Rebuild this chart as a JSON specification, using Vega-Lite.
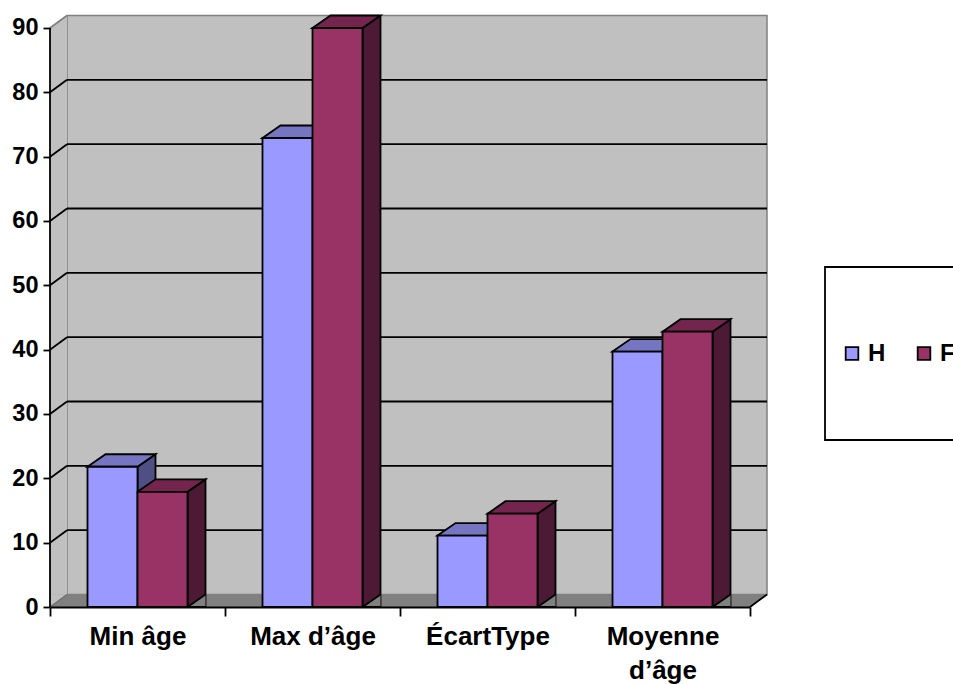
{
  "$schema": "https://vega.github.io/schema/vega-lite/v6.json",
  "width": 700,
  "height": 592,
  "autosize": "none",
  "padding": {"left": 50, "top": 15, "right": 203, "bottom": 77},
  "background": "white",
  "config": {"view": {"stroke": null}, "font": "Liberation Sans"},
  "datasets": {
    "ages": [
      {"cat": "Min âge", "serie": "H", "val": 21.8},
      {"cat": "Min âge", "serie": "F", "val": 17.9},
      {"cat": "Max d’âge", "serie": "H", "val": 72.9},
      {"cat": "Max d’âge", "serie": "F", "val": 90},
      {"cat": "ÉcartType", "serie": "H", "val": 11.1},
      {"cat": "ÉcartType", "serie": "F", "val": 14.5},
      {"cat": "Moyenne d’âge", "serie": "H", "val": 39.7},
      {"cat": "Moyenne d’âge", "serie": "F", "val": 42.8}
    ],
    "grid": [{"v": 10}, {"v": 20}, {"v": 30}, {"v": 40}, {"v": 50}, {"v": 60}, {"v": 70}, {"v": 80}],
    "one": [{"k": 1}]
  },
  "layer": [
    {
      "data": {"name": "one"},
      "mark": {"type": "rect", "fill": "#C0C0C0", "stroke": "#808080", "strokeWidth": 1.5, "xOffset": 17, "x2Offset": 17, "yOffset": -12.5, "y2Offset": -12.5},
      "encoding": {
        "x": {"value": 0},
        "x2": {"value": "width"},
        "y": {"datum": 0, "type": "quantitative", "title": null},
        "y2": {"datum": 90}
      }
    },
    {
      "data": {"name": "one"},
      "mark": {"type": "rect", "fill": "#C0C0C0", "x2Offset": 17, "y2Offset": -12.5},
      "encoding": {
        "x": {"value": 0},
        "x2": {"value": 0},
        "y": {"datum": 0, "type": "quantitative", "title": null},
        "y2": {"datum": 90}
      }
    },
    {
      "data": {"name": "one"},
      "mark": {"type": "rect", "fill": "#808080", "yOffset": -12.5},
      "encoding": {
        "x": {"value": 0},
        "x2": {"value": "width"},
        "y": {"datum": 0, "type": "quantitative", "title": null},
        "y2": {"datum": 0}
      }
    },
    {
      "data": {"name": "one"},
      "mark": {"type": "point", "shape": "M0,0 L0,-12.5 L17,-12.5 Z", "size": 4, "filled": true, "fill": "#C0C0C0", "stroke": "#C0C0C0", "strokeWidth": 0.5, "opacity": 1},
      "encoding": {"x": {"value": 0}, "y": {"datum": 0, "type": "quantitative", "title": null}}
    },
    {
      "data": {"name": "one"},
      "mark": {"type": "point", "shape": "M0,0 L17,-12.5 L0,-12.5 Z", "size": 4, "filled": true, "fill": "#808080", "stroke": "#808080", "strokeWidth": 0.5, "opacity": 1},
      "encoding": {"x": {"value": "width"}, "y": {"datum": 0, "type": "quantitative", "title": null}}
    },
    {
      "data": {"name": "one"},
      "mark": {"type": "point", "shape": "M0,0 L0,-13 L17,-13 Z", "size": 4, "filled": true, "fill": "white", "stroke": "white", "strokeWidth": 0.5, "opacity": 1},
      "encoding": {"x": {"value": 0}, "y": {"datum": 90, "type": "quantitative", "title": null}}
    },
    {
      "data": {"name": "grid"},
      "mark": {"type": "rule", "stroke": "black", "strokeWidth": 1.8, "xOffset": 17, "x2Offset": 17, "yOffset": -12.5},
      "encoding": {
        "x": {"value": 0},
        "x2": {"value": "width"},
        "y": {"field": "v", "type": "quantitative", "title": null}
      }
    },
    {
      "data": {"name": "grid"},
      "mark": {"type": "rule", "stroke": "black", "strokeWidth": 1.8, "x2Offset": 17, "y2Offset": -12.5},
      "encoding": {
        "x": {"value": 0},
        "x2": {"value": 0},
        "y": {"field": "v", "type": "quantitative", "title": null},
        "y2": {"field": "v"}
      }
    },
    {
      "data": {"name": "one"},
      "mark": {"type": "rule", "stroke": "#808080", "strokeWidth": 1.8, "x2Offset": 17, "y2Offset": -12.5},
      "encoding": {
        "x": {"value": 0},
        "x2": {"value": 0},
        "y": {"datum": 90, "type": "quantitative", "title": null},
        "y2": {"datum": 90}
      }
    },
    {
      "data": {"name": "one"},
      "mark": {"type": "rule", "stroke": "#707070", "strokeWidth": 1.5, "x2Offset": 17, "y2Offset": -12.5},
      "encoding": {
        "x": {"value": 0},
        "x2": {"value": 0},
        "y": {"datum": 0, "type": "quantitative", "title": null},
        "y2": {"datum": 0}
      }
    },
    {
      "data": {"name": "one"},
      "mark": {"type": "rule", "stroke": "black", "strokeWidth": 1.8, "x2Offset": 17, "y2Offset": -12.5},
      "encoding": {
        "x": {"value": "width"},
        "x2": {"value": "width"},
        "y": {"datum": 0, "type": "quantitative", "title": null},
        "y2": {"datum": 0}
      }
    },
    {
      "data": {"name": "one"},
      "mark": {"type": "rule", "stroke": "black", "strokeWidth": 1.8},
      "encoding": {
        "x": {"value": 0},
        "y": {"datum": 0, "type": "quantitative", "title": null},
        "y2": {"datum": 90}
      }
    },
    {
      "data": {"name": "ages"},
      "mark": {"type": "point", "shape": "M25,0 L43,-12.5 L43,700 L25,712 Z", "size": 4, "filled": true, "stroke": "black", "strokeWidth": 1.8, "opacity": 1, "clip": true},
      "encoding": {
        "x": {"field": "cat", "type": "nominal", "sort": ["Min âge", "Max d’âge", "ÉcartType", "Moyenne d’âge"], "title": null},
        "xOffset": {"field": "serie", "sort": ["H", "F"]},
        "y": {"field": "val", "type": "quantitative", "title": null},
        "fill": {"condition": {"test": "datum.serie == 'H'", "value": "#4F4F86"}, "value": "#4C1A34"}
      }
    },
    {
      "data": {"name": "ages"},
      "mark": {"type": "point", "shape": "M43,0 L25,0 L43,-12.5", "size": 4, "filled": true, "fill": "#808080", "stroke": "black", "strokeWidth": 1.8, "opacity": 1},
      "encoding": {
        "x": {"field": "cat", "type": "nominal", "sort": ["Min âge", "Max d’âge", "ÉcartType", "Moyenne d’âge"], "title": null},
        "xOffset": {"field": "serie", "sort": ["H", "F"]},
        "y": {"datum": 0, "type": "quantitative", "title": null}
      }
    },
    {
      "data": {"name": "ages"},
      "mark": {"type": "point", "shape": "M-25,0 L-7,-12.5 L43,-12.5 L25,0 Z", "size": 4, "filled": true, "stroke": "black", "strokeWidth": 1.8, "opacity": 1},
      "encoding": {
        "x": {"field": "cat", "type": "nominal", "sort": ["Min âge", "Max d’âge", "ÉcartType", "Moyenne d’âge"], "title": null},
        "xOffset": {"field": "serie", "sort": ["H", "F"]},
        "y": {"field": "val", "type": "quantitative", "title": null},
        "fill": {"condition": {"test": "datum.serie == 'H'", "value": "#7575C2"}, "value": "#74254D"}
      }
    },
    {
      "data": {"name": "ages"},
      "mark": {"type": "bar", "stroke": "black", "strokeWidth": 1.8, "opacity": 1},
      "encoding": {
        "x": {
          "field": "cat",
          "type": "nominal",
          "sort": ["Min âge", "Max d’âge", "ÉcartType", "Moyenne d’âge"],
          "title": null,
          "scale": {"paddingInner": 0, "paddingOuter": 0},
          "axis": {
            "labelAngle": 0,
            "labelAlign": "center",
            "domainColor": "black",
            "domainWidth": 1.8,
            "tickColor": "black",
            "tickWidth": 1.8,
            "tickSize": 9,
            "tickBand": "extent",
            "labelFont": "Liberation Sans",
            "labelFontWeight": "bold",
            "labelFontSize": 26,
            "labelColor": "black",
            "labelPadding": 20,
            "labelLineHeight": 34,
            "labelExpr": "datum.label == 'Moyenne d’âge' ? ['Moyenne', 'd’âge'] : datum.label",
            "zindex": 1
          }
        },
        "xOffset": {"field": "serie", "sort": ["H", "F"], "scale": {"paddingInner": 0, "paddingOuter": 0.75}},
        "y": {
          "field": "val",
          "type": "quantitative",
          "title": null,
          "scale": {"domain": [0, 92.02], "nice": false},
          "axis": {
            "values": [0, 10, 20, 30, 40, 50, 60, 70, 80, 90],
            "domain": false,
            "grid": false,
            "tickColor": "black",
            "tickWidth": 1.8,
            "tickSize": 7,
            "labelFont": "Liberation Sans",
            "labelFontWeight": "bold",
            "labelFontSize": 23.5,
            "labelColor": "black",
            "labelPadding": 5,
            "zindex": 1
          }
        },
        "color": {
          "field": "serie",
          "type": "nominal",
          "sort": ["H", "F"],
          "scale": {"domain": ["H", "F"], "range": ["#9999FF", "#993366"]},
          "legend": {
            "title": null,
            "orient": "none",
            "legendX": 775,
            "legendY": 252,
            "direction": "horizontal",
            "padding": 15,
            "clipHeight": 143,
            "strokeColor": "black",
            "fillColor": "white",
            "cornerRadius": 0,
            "symbolType": "square",
            "symbolSize": 160,
            "symbolStrokeColor": "black",
            "symbolStrokeWidth": 1.8,
            "symbolOpacity": 1,
            "labelFont": "Liberation Sans",
            "labelFontWeight": "bold",
            "labelFontSize": 24,
            "labelColor": "black",
            "labelOffset": 4,
            "columnPadding": 26,
            "encode": {
              "legend": {"update": {"strokeWidth": {"value": 1.8}}}
            }
          }
        }
      }
    }
  ]
}
